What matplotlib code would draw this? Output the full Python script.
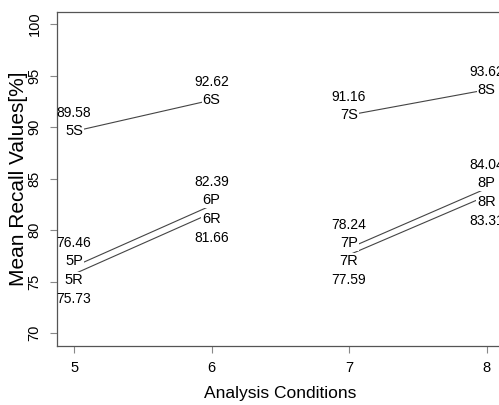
import matplotlib
matplotlib.use("Agg")
import matplotlib.pyplot as plt

plt.rcParams['font.family'] = ['Liberation Sans', 'DejaVu Sans']

# analysis conditions and mean recall values per measure
conditions = [5, 6, 7, 8]
s_values = [89.58, 92.62, 91.16, 93.62]
p_values = [76.46, 82.39, 78.24, 84.04]
r_values = [75.73, 81.66, 77.59, 83.31]
pairs = [(0, 1), (2, 3)]  # which conditions are joined by a line

fig = plt.figure(figsize=(4.99, 4.05), dpi=100)
ax = fig.add_axes([57 / 499, 59 / 405, 446.6 / 499, 334 / 405])

# (values, tag, label offset px, number offset px)
series = [
    (s_values, "S", 0, 18),
    (p_values, "P", 5, 23),
    (r_values, "R", -6, -25),
]

px = 72 / 100  # one pixel in points

for vals, tag, lab_off, num_off in series:
    for a, b in pairs:
        ax.plot([conditions[a], conditions[b]], [vals[a], vals[b]],
                color="#444444", lw=0.8, zorder=1)
    for x, v in zip(conditions, vals):
        ax.annotate(f"{x}{tag}", (x, v), xytext=(0, lab_off * px),
                    textcoords="offset points", ha="center", va="center",
                    fontsize=10.5, zorder=3, annotation_clip=False,
                    bbox=dict(boxstyle="square,pad=0.05", fc="white", ec="none"))
        ax.annotate(f"{v:.2f}", (x, v), xytext=(0, num_off * px),
                    textcoords="offset points", ha="center", va="center",
                    fontsize=10, zorder=3, annotation_clip=False)

ax.set_xlim(4.876, 8.124)
ax.set_ylim(68.74, 101.17)
ax.set_xticks(conditions)
ax.set_yticks([70, 75, 80, 85, 90, 95, 100])
ax.tick_params(axis="both", length=5, width=0.8, color="#888888", labelsize=10.5)
ax.tick_params(axis="x", pad=6)
ax.tick_params(axis="y", pad=6)
for lbl in ax.get_yticklabels():
    lbl.set_rotation(90)
    lbl.set_va("center")
for sp in ax.spines.values():
    sp.set_color("#555555")
    sp.set_linewidth(0.9)

ax.set_xlabel("Analysis Conditions", fontsize=12.5, labelpad=8)
ax.set_ylabel("Mean Recall Values[%]", fontsize=15, labelpad=0)

fig.savefig("out.png", dpi=100)
